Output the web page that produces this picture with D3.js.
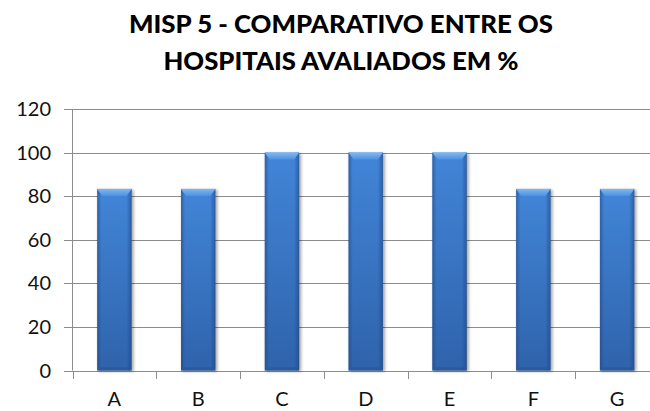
<!DOCTYPE html>
<html>
<head>
<meta charset="utf-8">
<script src="https://cdn.jsdelivr.net/npm/d3@7"></script>
<style>
  html, body { margin: 0; padding: 0; background: #fff; }
  svg { display: block; }
</style>
</head>
<body>
<svg id="chart" width="650" height="411"></svg>
<script>
const titleLines = ["MISP 5 - COMPARATIVO ENTRE OS", "HOSPITAIS AVALIADOS EM %"];
const categories = ["A", "B", "C", "D", "E", "F", "G"];
const values = [83.33, 83.33, 100, 100, 100, 83.33, 83.33];
const yTicks = [0, 20, 40, 60, 80, 100, 120];

const svg = d3.select("#chart");
const x = d3.scaleBand().domain(categories).range([72.5, 659]).paddingInner(0.59).paddingOuter(0.295);
const y = d3.scaleLinear().domain([0, 120]).range([370.5, 109]);

const defs = svg.append("defs");
const gBody = defs.append("linearGradient").attr("id", "gBody").attr("x1", 0).attr("y1", 0).attr("x2", 0).attr("y2", 1);
gBody.append("stop").attr("offset", "0%").attr("stop-color", "#4285d8");
gBody.append("stop").attr("offset", "100%").attr("stop-color", "#2f63ab");
const gEdge = defs.append("linearGradient").attr("id", "gEdge").attr("x1", 0).attr("y1", 0).attr("x2", 1).attr("y2", 0);
gEdge.append("stop").attr("offset", "0%").attr("stop-color", "#1d4580").attr("stop-opacity", 0.55);
gEdge.append("stop").attr("offset", "12%").attr("stop-color", "#1d4580").attr("stop-opacity", 0.0);
gEdge.append("stop").attr("offset", "85%").attr("stop-color", "#1d4580").attr("stop-opacity", 0.0);
gEdge.append("stop").attr("offset", "100%").attr("stop-color", "#1d4580").attr("stop-opacity", 0.6);
const gTop = defs.append("linearGradient").attr("id", "gTop").attr("x1", 0).attr("y1", 0).attr("x2", 0).attr("y2", 1);
gTop.append("stop").attr("offset", "0%").attr("stop-color", "#80b8f2");
gTop.append("stop").attr("offset", "100%").attr("stop-color", "#4f90de");
const blur = defs.append("filter").attr("id", "shadow").attr("x", "-20%").attr("y", "-5%").attr("width", "140%").attr("height", "110%");
blur.append("feGaussianBlur").attr("stdDeviation", 1.5);

// gridlines
svg.append("g").selectAll("line").data(yTicks).join("line")
  .attr("x1", 64).attr("x2", 660)
  .attr("y1", d => Math.round(y(d)) + 0.5).attr("y2", d => Math.round(y(d)) + 0.5)
  .attr("stroke", "#8c8c8c").attr("stroke-width", 1);

// y axis line
svg.append("line").attr("x1", 72.5).attr("x2", 72.5).attr("y1", y(120)).attr("y2", y(0))
  .attr("stroke", "#8c8c8c");

// x ticks at category boundaries
const step = x.step();
const bounds = d3.range(categories.length + 1).map(i => x.range()[0] + i * step);
svg.append("g").selectAll("line").data(bounds).join("line")
  .attr("x1", d => Math.round(d) + 0.5).attr("x2", d => Math.round(d) + 0.5)
  .attr("y1", Math.round(y(0))).attr("y2", Math.round(y(0)) + 8)
  .attr("stroke", "#8c8c8c");

// y tick labels
svg.append("g").selectAll("text").data(yTicks).join("text")
  .attr("x", 51).attr("y", d => y(d) + 7)
  .attr("text-anchor", "end")
  .attr("font-family", "Lato, 'Open Sans', sans-serif").attr("font-size", 20)
  .attr("fill", "#111")
  .text(d => d);

// x labels
svg.append("g").selectAll("text").data(categories).join("text")
  .attr("x", d => x(d) + x.bandwidth() / 2).attr("y", 406)
  .attr("text-anchor", "middle")
  .attr("font-family", "Lato, 'Open Sans', sans-serif").attr("font-size", 20)
  .attr("fill", "#111")
  .text(d => d);

// bars
const bw = x.bandwidth();
const bars = svg.append("g").selectAll("g").data(categories.map((c, i) => ({ c, v: values[i] }))).join("g");
bars.append("rect")
  .attr("x", d => x(d.c) + 1).attr("y", d => y(d.v) + 1)
  .attr("width", bw + 1).attr("height", d => y(0) - y(d.v))
  .attr("fill", "#000").attr("opacity", 0.35).attr("filter", "url(#shadow)");
bars.append("rect")
  .attr("x", d => x(d.c)).attr("y", d => y(d.v))
  .attr("width", bw).attr("height", d => y(0) - y(d.v))
  .attr("fill", "url(#gBody)");
bars.append("rect")
  .attr("x", d => x(d.c)).attr("y", d => y(d.v))
  .attr("width", bw).attr("height", d => y(0) - y(d.v))
  .attr("fill", "url(#gEdge)");
bars.append("polygon")
  .attr("points", d => {
    const x0 = x(d.c), x1 = x0 + bw, t = y(d.v), b = t + 7;
    return [[x0, t], [x1, t], [x1 - 5, b], [x0 + 5, b]].map(p => p.join(",")).join(" ");
  })
  .attr("fill", "url(#gTop)");
// bottom dark band
bars.append("rect")
  .attr("x", d => x(d.c) + 2).attr("y", y(0) - 3)
  .attr("width", bw - 4).attr("height", 3)
  .attr("fill", "#2a5796").attr("opacity", 0.7);

// title
svg.append("g").selectAll("text").data(titleLines).join("text")
  .attr("x", 341).attr("y", (d, i) => 33 + i * 37)
  .attr("text-anchor", "middle")
  .attr("font-family", "Lato, 'Open Sans', sans-serif").attr("font-weight", "900").attr("font-size", 25)
  .attr("textLength", (d, i) => i === 0 ? 424 : 355)
  .attr("lengthAdjust", "spacingAndGlyphs")
  .attr("fill", "#000")
  .text(d => d);
</script>
</body>
</html>
